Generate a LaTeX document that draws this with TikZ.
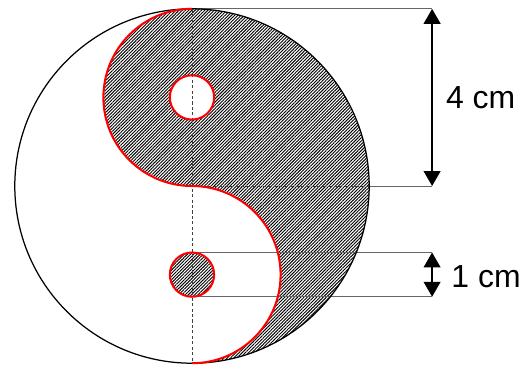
\documentclass[tikz,border=0pt]{standalone}
\usepackage{fontspec}
\setmainfont{Liberation Sans}
\usetikzlibrary{arrows.meta,patterns.meta}
\tikzset{
  hatch/.style={pattern={Lines[angle=45,distance=1.45pt,line width=0.6pt]}},
  redline/.style={red,line width=1.3pt},
  guide/.style={black!60,line width=0.5pt},
  dashguide/.style={black!75,line width=0.6pt,dash pattern=on 2pt off 1.5pt},
  dimarrow/.style={{Triangle[length=9.6pt,width=10.7pt]}-{Triangle[length=9.6pt,width=10.7pt]},line width=1.3pt},
  dimlabel/.style={anchor=west,inner sep=0pt,font=\fontsize{20.5}{24}\selectfont}
}
\begin{document}
\begin{tikzpicture}
    \useasboundingbox (-4.334,-4.04) rectangle (7.585,4.199);
    \coordinate (top) at (0,4);
    \coordinate (mid) at (0,0);
    \coordinate (bot) at (0,-4);
    \coordinate (rim) at (4,0);
    \coordinate (dtop) at (5.42,4);
    \coordinate (dmid) at (5.42,0);
    \coordinate (dup) at (5.42,-1.5);
    \coordinate (ddown) at (5.42,-2.5);
    \fill[hatch] (top) arc[start angle=90,end angle=270,radius=2]
      arc[start angle=90,end angle=-90,radius=2]
      arc[start angle=-90,end angle=90,radius=4] -- cycle;
    \fill[white] (0,2) circle (0.5);
    \fill[hatch] (0,-2) circle (0.5);
    \draw[dashguide] (top) -- (bot);
    \draw[dashguide] (mid) -- (rim);
    \draw[guide] (top) -- (dtop) (rim) -- (dmid);
    \foreach \y/\n in {-1.5/dup,-2.5/ddown}
    \draw[guide] (0,\y) -- (\n);
    \draw[line width=0.8pt] (mid) circle (4);
    \draw[redline] (top) arc[start angle=90,end angle=270,radius=2]
      arc[start angle=90,end angle=-90,radius=2];
    \foreach \y in {2,-2}
    \draw[redline] (0,\y) circle (0.5);
    \draw[dimarrow] (dtop) -- (dmid);
    \draw[dimarrow] (dup) -- (ddown);
    \node[dimlabel] (fourcm) at (5.73,2) {4 cm};
    \node[dimlabel] (onecm) at (5.85,-2.05) {1 cm};
  \end{tikzpicture}
\end{document}
